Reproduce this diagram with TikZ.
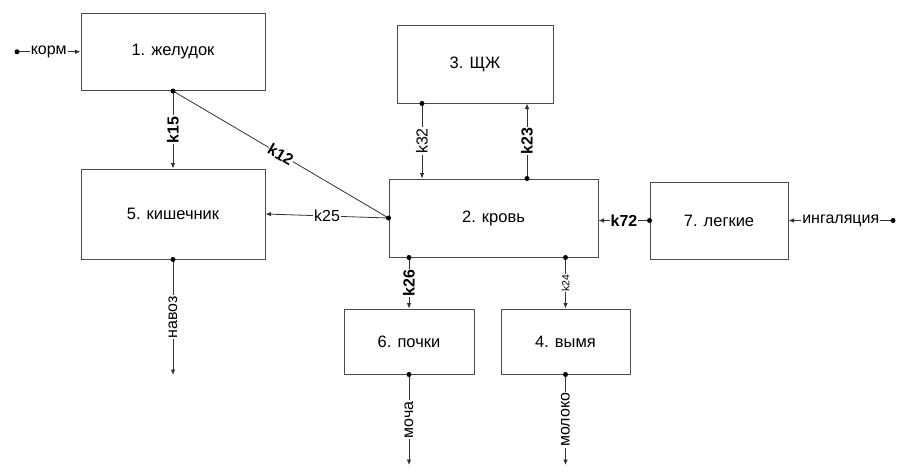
\documentclass[tikz,border=0pt]{standalone}
\usepackage{fontspec}
\setmainfont{Liberation Sans}
\usetikzlibrary{arrows.meta}
\begin{document}
\begin{tikzpicture}[x=1pt,y=-1pt,
  box/.style={draw=black!70, line width=1pt, fill=white, inner sep=0pt,
    font=\fontsize{16.5}{19}\selectfont},
  conn/.style={draw=black!80, line width=0.8pt},
  arr/.style={conn, -{Latex[length=5.5pt,width=4.5pt]}},
  lab/.style={fill=white, inner sep=1pt, font=\fontsize{16}{19}\selectfont},
  blab/.style={lab, font=\fontsize{16}{19}\selectfont\bfseries},
  slab/.style={lab, font=\fontsize{10.5}{12}\selectfont},
  vert/.style={rotate=90},
  dotc/.style={fill=black}]
\useasboundingbox (0,0) rectangle (909,471);
\fill[white] (0,0) rectangle (909,471);

% boxes
\node[box, minimum width=184pt, minimum height=77.5pt] (b1) at (173,51.75) {1. желудок};
\node[box, minimum width=184pt, minimum height=90pt] (b5) at (173,214) {5. кишечник};
\node[box, minimum width=209pt, minimum height=78pt] (b2) at (493.5,218) {2. кровь};
\node[box, minimum width=156pt, minimum height=78pt] (b3) at (475,64) {3. ЩЖ};
\node[box, minimum width=138pt, minimum height=77pt] (b7) at (719,220.5) {7. легкие};
\node[box, minimum width=130pt, minimum height=65pt] (b6) at (409,341.5) {6. почки};
\node[box, minimum width=129pt, minimum height=65pt] (b4) at (565.5,341.5) {4. вымя};

% free ends / columns
\coordinate (kin) at (17,51.75);
\coordinate (inh) at (893,220.5);
\coordinate (c32) at (422,0);
\coordinate (c23) at (527,0);
\coordinate (nav) at (173,375);
\coordinate (moch) at (409,465);
\coordinate (mol) at (565.5,465);

% connectors
\draw[arr] (kin) -- node[lab] {корм} (b1.west);
\fill[dotc] (kin) circle (2.5pt);

\draw[arr] (b1.south) -- node[blab, vert] {k15} (b5.north);
\draw[conn] (b1.south) -- node[blab, sloped, inner sep=0.5pt] {k12} (b2.west);
\draw[arr] (b2.west) -- node[lab] {k25} (b5.east);
\fill[dotc] (b1.south) circle (2.5pt);
\fill[dotc] (b2.west) circle (2.5pt);

\draw[arr] (b3.south -| c32) -- node[lab, vert] {k32} (b2.north -| c32);
\fill[dotc] (b3.south -| c32) circle (2.5pt);
\draw[arr] (b2.north -| c23) -- node[blab, vert] {k23} (b3.south -| c23);
\fill[dotc] (b2.north -| c23) circle (2.5pt);

\draw[arr] (b7.west) -- node[blab] {k72} (b2.east |- b7.west);
\fill[dotc] (b7.west) circle (2.5pt);
\draw[arr] (inh) -- node[lab] {ингаляция} (b7.east);
\fill[dotc] (inh) circle (2.5pt);

\draw[arr] (b2.south -| b6.north) -- node[blab, vert] {k26} (b6.north);
\fill[dotc] (b2.south -| b6.north) circle (2.5pt);
\draw[arr] (b2.south -| b4.north) -- node[slab, vert] {k24} (b4.north);
\fill[dotc] (b2.south -| b4.north) circle (2.5pt);

\draw[arr] (b5.south) -- node[lab, vert] {навоз} (nav);
\fill[dotc] (b5.south) circle (2.5pt);
\draw[arr] (b6.south) -- node[lab, vert] {моча} (moch);
\fill[dotc] (b6.south) circle (2.5pt);
\draw[arr] (b4.south) -- node[lab, vert] {молоко} (mol);
\fill[dotc] (b4.south) circle (2.5pt);
\end{tikzpicture}
\end{document}
